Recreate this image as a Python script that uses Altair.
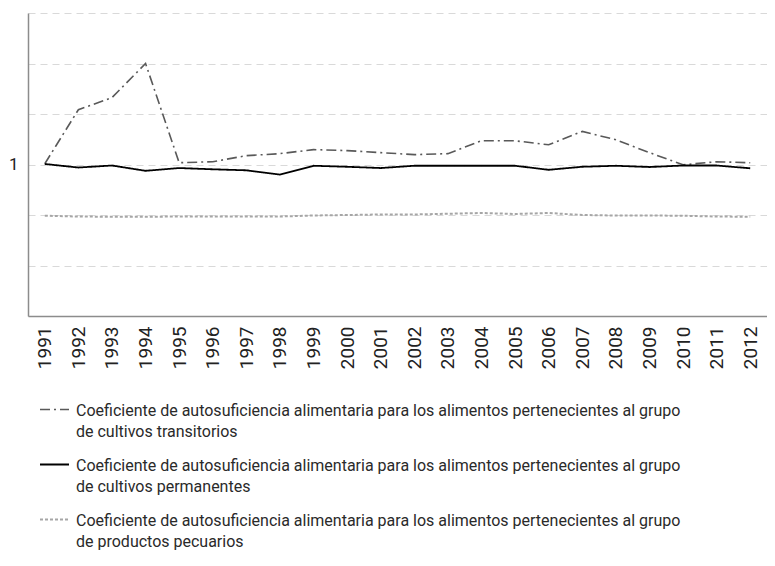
import altair as alt
import pandas as pd

years = [str(y) for y in range(1991, 2013)]

transitorios = [1.003, 1.217, 1.265, 1.400, 1.007, 1.011, 1.035, 1.043, 1.059, 1.055, 1.047,
                1.039, 1.043, 1.094, 1.094, 1.078, 1.131, 1.098, 1.047, 0.999, 1.011, 1.007]
permanentes = [1.002, 0.988, 0.996, 0.975, 0.986, 0.981, 0.977, 0.960, 0.995, 0.991, 0.986,
               0.995, 0.995, 0.995, 0.995, 0.979, 0.991, 0.995, 0.990, 0.996, 0.996, 0.985]
pecuarios = [0.797, 0.794, 0.793, 0.793, 0.794, 0.794, 0.794, 0.794, 0.798, 0.800, 0.802,
             0.802, 0.805, 0.808, 0.804, 0.808, 0.800, 0.798, 0.798, 0.797, 0.794, 0.793]

series = ["transitorios", "permanentes", "pecuarios"]
series_labels = [
    "Coeficiente de autosuficiencia alimentaria para los alimentos pertenecientes al grupo|de cultivos transitorios",
    "Coeficiente de autosuficiencia alimentaria para los alimentos pertenecientes al grupo|de cultivos permanentes",
    "Coeficiente de autosuficiencia alimentaria para los alimentos pertenecientes al grupo|de productos pecuarios",
]
colors = ["#595959", "#000000", "#a6a6a6"]
dashes = [[10, 4, 2, 4], [1, 0], [3, 2]]
widths = [1.6, 2.0, 1.4]
y_grid = [0.4, 0.6, 0.8, 1.0, 1.2, 1.4, 1.6]

rows = []
for name, vals in zip(series, [transitorios, permanentes, pecuarios]):
    for yr, v in zip(years, vals):
        rows.append({"year": yr, "serie": name, "value": v})
df = pd.DataFrame(rows)

color_enc = alt.Color("serie:N", scale=alt.Scale(domain=series, range=colors), legend=None)
dash_enc = alt.StrokeDash("serie:N", scale=alt.Scale(domain=series, range=dashes), legend=None)
width_enc = alt.StrokeWidth("serie:N", scale=alt.Scale(domain=series, range=widths), legend=None)

main = alt.Chart(df).mark_line().encode(
    x=alt.X("year:N", sort=years, title=None,
            axis=alt.Axis(labelAngle=-90, labelFontSize=19, labelFont="Roboto", labelColor="#222222",
                          ticks=False, labelPadding=10, domainColor="#8c8c8c", domainWidth=1.5,
                          grid=False)),
    y=alt.Y("value:Q", title=None,
            scale=alt.Scale(domain=[0.4, 1.6], nice=False, zero=False),
            axis=alt.Axis(values=y_grid, labelExpr="datum.value == 1 ? '1' : ''",
                          grid=True, gridDash=[7, 5], gridColor="#d9d9d9", gridWidth=1,
                          ticks=False, domainColor="#8c8c8c", domainWidth=1.5,
                          labelFontSize=17, labelFont="Roboto", labelColor="#222222",
                          labelPadding=10)),
    color=color_enc,
    strokeDash=dash_enc,
    strokeWidth=width_enc,
).properties(width=739, height=303)

leg_df = pd.DataFrame({"serie": series, "label": series_labels})
leg_base = alt.Chart(leg_df).encode(
    y=alt.Y("serie:N", sort=series, axis=None, scale=alt.Scale(paddingInner=0, paddingOuter=0))
)
leg_rules = leg_base.mark_rule().encode(
    x=alt.value(12), x2=alt.value(41),
    color=color_enc, strokeDash=dash_enc, strokeWidth=width_enc,
)
leg_text = leg_base.mark_text(
    align="left", baseline="alphabetic", dy=6, lineBreak="|", lineHeight=21,
    fontSize=16, font="Roboto", color="#2a2a2a"
).encode(x=alt.value(48), text="label:N")
legend = (leg_rules + leg_text).properties(width=739, height=165)

chart = alt.vconcat(main, legend, spacing=13).properties(
    padding={"left": 0, "top": 5, "right": 0, "bottom": 0}
).configure_view(stroke=None)

chart.save("out.html", embed_options={"renderer": "svg", "actions": False})
